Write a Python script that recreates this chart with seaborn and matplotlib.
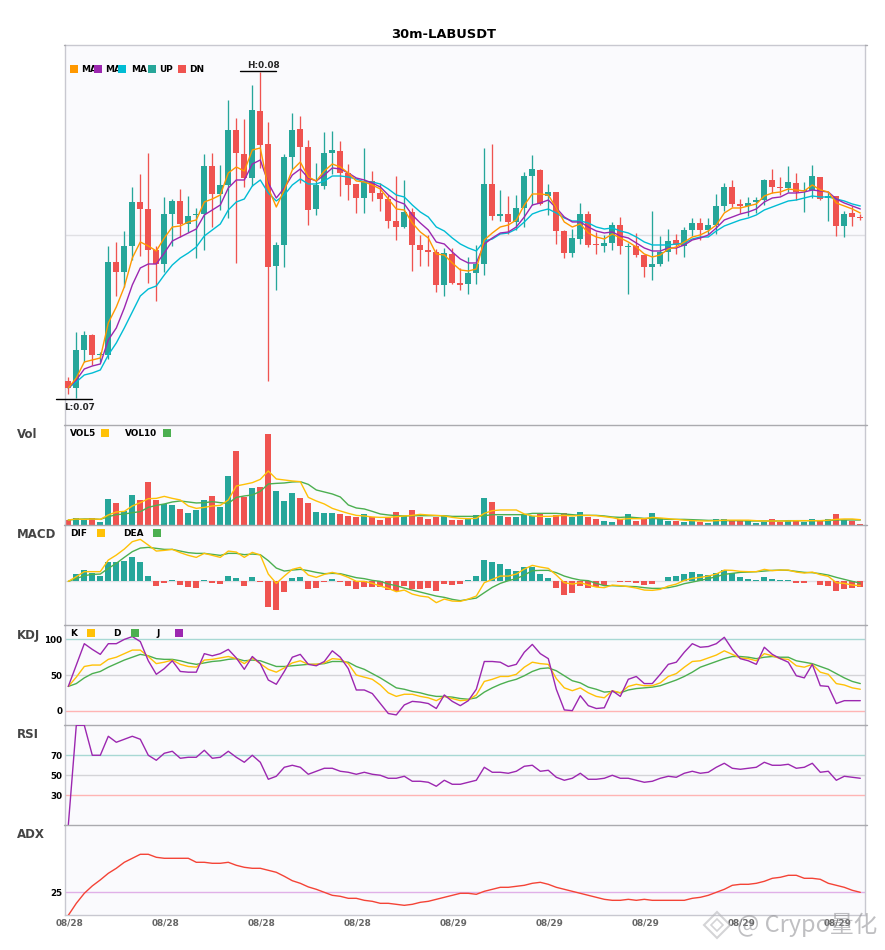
import pandas as pd
import numpy as np
import matplotlib
matplotlib.use('Agg')
import matplotlib.pyplot as plt
from matplotlib.lines import Line2D
from matplotlib.patches import Rectangle
import seaborn as sns

# candles, price read in chart units above the floor of the panel
opens = [43,36,74,89,69,69,162,152,178,222,215,174,160,210,223,200,209,210,258,230,
         239,294,270,246,313,280,158,179,267,295,277,215,238,271,273,251,240,226,243,231,
         225,203,197,212,179,174,172,139,170,141,140,151,160,240,208,210,202,216,248,254,
         228,232,193,171,185,210,180,178,181,199,177,178,169,157,160,172,184,178,194,201,
         194,199,218,237,220,218,222,224,244,237,236,241,233,234,247,226,228,198,211,207]
closes = [36,74,89,69,70,162,152,178,222,215,174,160,210,223,200,208,210,258,230,239,
          294,271,246,314,279,157,179,267,294,277,214,239,271,274,251,239,226,243,231,225,
          203,197,212,179,174,172,139,171,141,139,151,160,240,208,210,202,216,248,255,220,
          232,193,171,186,210,179,179,181,199,178,178,169,157,160,172,183,179,194,201,194,
          199,218,237,220,218,221,224,244,237,236,242,232,234,248,225,228,198,210,207,206]
highs = [47,92,93,90,72,178,182,193,237,250,271,178,227,225,235,228,216,270,271,259,
         324,306,305,339,352,302,182,270,311,308,284,261,292,293,283,260,240,276,253,241,
         229,248,244,216,189,189,175,176,176,156,167,179,276,280,234,228,229,252,269,255,
         240,232,194,195,221,213,192,189,202,207,181,191,169,213,188,195,190,197,206,206,
         206,230,241,244,225,227,227,245,255,247,258,251,242,259,247,232,228,213,218,210]
lows = [30,26,62,59,62,65,128,137,164,168,141,123,152,178,187,192,166,174,197,214,
        206,161,237,238,256,43,134,157,255,241,199,209,235,250,228,224,211,211,223,213,
        196,184,196,153,158,158,132,128,140,134,130,140,149,204,203,190,194,197,219,219,
        209,180,166,167,180,177,170,172,174,170,130,167,147,144,158,163,170,167,188,184,
        190,190,213,217,211,208,211,219,231,229,232,224,212,226,224,203,188,187,198,204]
ma5 = [36,46,62,64,66,101,117,137,166,182,178,173,186,197,198,202,204,222,225,229,
       251,257,253,274,276,236,217,234,254,262,247,243,253,260,257,251,243,242,239,235,
       225,215,214,201,192,186,170,169,161,154,153,155,184,191,197,199,204,219,230,230,
       229,216,202,197,200,191,187,185,190,186,182,177,170,167,169,175,177,182,187,189,
       193,199,211,216,216,218,220,228,231,232,235,234,233,239,234,232,221,218,215,211]
ma10 = [36,44,55,58,60,84,96,116,139,156,160,160,171,183,187,191,195,209,214,219,
        236,244,244,260,264,241,226,236,249,255,246,243,249,256,255,251,246,244,241,237,
        229,223,220,209,201,194,182,180,172,165,161,161,180,186,191,192,197,207,219,221,
        224,216,207,202,202,197,193,191,192,188,186,181,176,173,173,176,176,179,184,186,
        189,196,204,207,210,212,215,222,226,227,231,231,232,234,233,232,225,221,218,215]
ma20 = [36,42,49,51,54,69,81,96,112,128,135,138,149,159,166,171,177,188,194,200,
        214,222,225,238,244,231,223,229,239,245,240,240,243,248,248,247,245,242,242,240,
        235,229,227,219,212,207,197,193,186,180,176,173,183,185,190,191,195,202,210,213,
        215,211,206,203,203,201,197,195,196,193,191,187,182,179,179,179,180,181,185,187,
        187,193,198,201,204,206,209,214,217,220,223,224,226,228,227,227,225,223,220,218]

# volume
vol = [4.7,6.7,5.3,6.7,2.7,25.7,21.7,14,29.7,24.7,42.7,24.7,20.7,19.7,15.7,11.7,14.7,24.7,28.7,17.7,
       48.7,73.7,28,36.7,37.7,90.7,33.7,23.7,31.7,26.7,21.7,12.7,11.7,11.7,10.7,8.7,7.7,10.7,7.7,4.7,
       7,12.7,8.7,14.7,7.7,5.7,7.7,8.7,4.7,4.7,6,9.7,26.7,22.7,8.7,7.7,7.7,10.7,8.7,10.7,
       6.7,9.7,11.7,8,12.7,7.7,5.7,3.7,2.7,5.7,10.7,3.7,5.7,11.7,6.7,3.7,3.7,2.7,3.7,2.7,
       2,5.7,5.7,4.7,3.7,3.7,2,2.7,5.7,2.7,3.7,4.7,2.7,5.7,3.7,5.7,10.7,4.7,3.7,0.7]
vol5 = [4.7,5.7,5.3,5.7,5.3,9.7,12.7,13.3,18.7,22,26,26.3,28.3,26.3,24.7,18.7,16.3,17.3,18.7,19.3,
        24.7,38.7,40.3,42,45.3,53.7,45.7,44.7,43.7,43,27.3,23.7,20.7,16.3,13.7,11.3,9.3,8.7,7.7,7.3,
        7.3,8,8.7,9.3,10.3,9.7,9.3,8.7,7.3,6.3,6,6.3,11.3,14,14.7,14.7,14.7,10.7,8.7,8.3,
        8.3,8.7,9.3,8.7,9.3,9.3,9,8,7,5.3,6,6,6,7.3,6.7,6,5.3,4.5,4,3.7,
        3.7,4,4.5,4.5,4.5,4.5,4,3.7,3.7,3.7,3.7,4,4,4,4,4.5,5.3,5.7,5.7,5]
vol10 = [4.7,5.3,5.7,5.7,5.3,8,10,10.7,12,13,17.3,19.3,20.7,22.7,23.7,22.7,21.7,22,23,22,
         21.3,27.3,28.7,29.7,33.3,40.7,41.3,41.7,42.7,43,40.3,34.7,32.7,30.7,27.7,19.7,16.7,15.7,13.3,10.7,
         9.7,9,8.7,9,9,9,9,9,8.3,8.3,8.3,8.3,9,10,10,10,10,10,11.3,11.3,
         11.3,11.3,10.7,10,9.3,9.3,9.3,8.7,7.7,7.3,7.7,7,6.3,6.3,5.7,5.3,5.3,5.3,5,4.7,
         4.3,4.3,4,4,4,3.7,3.7,3.7,3.7,3.7,4,4,4,4,4,4,4.7,4.7,4.7,4.7]

# macd
macd = [0,7.3,11.3,8.3,5.3,19.3,19.3,20.3,24.3,19.3,5.3,-4.7,-1.7,1.3,-3.7,-5.7,-6.7,1.3,-1.7,-2.7,
        5.3,3.3,-4.7,4.3,-0.7,-25.7,-28.7,-10.7,3.3,4.3,-7.7,-6.7,-0.7,2.3,-0.7,-4.7,-7.7,-5.7,-5.7,-5.7,
        -8.7,-9.7,-4.7,-7.7,-7.7,-6.7,-9.7,-2.7,-3.7,-2.7,1.3,5.3,21.3,19.3,17.3,12.3,10.3,14.3,14.3,7.3,
        3.3,-6.7,-13.7,-11.7,-4.7,-6.7,-5.7,-3.7,0,-0.7,-0.7,-1.7,-3.7,-2.7,0,4.3,5.3,7.3,9.3,7.3,
        6.3,8.3,11.3,8.3,4.3,2.3,1.3,4.3,2.3,1.3,1.3,-1.7,-1.7,0,-3.7,-4.7,-9.7,-7.7,-6.7,-5.7]
dif = [0,4.7,9.7,9.7,9.7,21.3,26.3,32.3,39.7,42,36.3,30.3,31,32,28.7,26,24,28,26,24,
       30.3,29.3,24,29,26.3,7.3,-2,5.3,12,14,6.3,4,7,9,7,4,0,0,-2,-4.7,
       -7,-10.3,-8.7,-12.7,-14.7,-15.7,-21.3,-17.7,-19.7,-20,-17.7,-14.7,-1.3,2,5.3,5.3,7.3,12.3,16,14.3,
       13,6.3,-1.3,-2.7,-1.3,-3.7,-5.7,-6.3,-3.7,-4.3,-5.3,-6.7,-8.7,-9,-8,-4.7,-2.7,1,3,4,
       5.3,7.3,11.3,11,10,9.7,9.7,12,10.7,11.3,11.3,9.3,8.3,9.3,6.7,5,-1.3,-2,-3.7,-4.3]
dea = [0,2.7,5.7,7,7.3,13,18,24,29.7,33.3,34,33,32,32,30.3,28.7,28,28,27,26,
       28,28,26.7,27.3,26.7,20.7,13.3,10.3,11.3,12,10.7,9,7.7,8,7.7,5.7,3.7,2.7,1,0,
       -2.7,-4.3,-6.7,-8.7,-10.7,-12.7,-14.7,-16,-18,-19.3,-18,-16.7,-11.3,-6,-2,0.7,2.7,6.3,10.7,11,
       11,8.7,5.3,3,1.3,0.7,-2,-4.3,-4.3,-4.7,-5,-5.3,-6.3,-7,-7,-6.3,-4.7,-2.3,-0.7,1,
       2.7,4.7,7,8,9,9.3,9.7,10.3,11,11.3,11,10,9,8.7,7.7,6.3,4,2,0,-1.7]

# kdj
k_line = [34,47,62,64,64,72,75,80,85,85,76,66,68,71,65,62,61,71,72,74,
          76,73,66,74,66,58,54,60,67,70,65,65,67,73,72,66,50,47,44,36,
          25,20,23,23,20,18,14,20,17,14,15,22,41,44,48,48,51,61,68,66,
          65,45,32,28,32,25,20,18,28,25,34,37,35,35,39,48,52,61,69,70,
          74,78,84,79,74,73,70,80,77,73,72,63,61,65,54,51,38,36,32,30]
d_line = [34,38,46,52,55,61,66,71,75,79,77,73,72,72,70,67,65,67,69,70,
          72,73,70,71,70,66,62,62,63,64,65,65,66,69,69,68,62,58,52,46,
          39,32,30,27,25,22,20,20,19,17,16,18,26,32,37,41,44,49,55,59,
          60,56,49,42,39,33,30,26,27,25,29,31,32,33,35,39,43,48,54,61,
          65,69,73,76,76,75,73,75,76,75,75,70,68,66,62,58,52,46,41,38]
j_line = [34,64,94,86,79,94,94,100,104,97,70,51,59,70,55,54,54,80,77,80,
          86,74,58,76,66,43,37,55,75,79,65,63,69,84,75,59,29,29,24,10,
          -4,-6,8,13,12,10,3,22,13,7,14,30,69,69,68,62,65,82,93,80,
          73,30,1,0,21,7,3,4,28,20,44,48,38,38,51,65,68,82,94,89,
          90,94,103,86,73,70,65,89,79,73,68,49,46,65,35,34,10,14,14,14]

# rsi
rsi = [0,100,100,70,70,89,83,86,89,86,70,65,72,74,67,68,68,75,67,68,
       74,68,63,70,63,46,49,58,60,58,51,54,57,57,54,53,51,53,51,50,
       47,47,49,44,44,43,39,45,41,41,43,45,58,53,53,52,54,59,60,54,
       55,48,45,47,52,46,46,47,50,47,47,45,43,44,47,49,48,52,54,52,
       53,58,62,57,56,57,58,63,60,60,61,57,58,62,53,54,45,49,48,47]

# adx
adx = [13.5,19.5,24.5,28.2,31.2,34.5,37,40,42,44,44,42.5,42,42,42,42,40,40,39.5,39.5,
       40,38.5,37.5,37,37,36,35,33,30.8,29.5,27.7,26.5,25,23.5,23,22,22,21,20.5,19.5,
       19.5,19,18.5,19,20,20.5,21.5,22.5,23.5,24.5,24.5,24,25.5,26.5,27.5,27.5,28,28.5,29.5,30,
       29,27.5,26.5,25.5,24.5,23.5,22.5,21.5,21,21,21.5,21,21.5,21,21,21,21,21,22,22.5,
       23.5,25,26.5,28.5,29,29,29.5,30.5,32,32.5,33.5,33.5,32,32,31.5,29.5,28.5,27.5,26,25]

x_tick_pos = [0.2, 12.2, 24.2, 36.2, 48.2, 60.2, 72.2, 84.2, 96.2]
x_tick_labels = ['08/28', '08/28', '08/28', '08/28', '08/29', '08/29', '08/29', '08/29', '08/29']

UP = '#26A69A'
DN = '#EF5350'
ORANGE = '#FF9800'
PURPLE = '#9C27B0'
CYAN = '#00BCD4'
YELLOW = '#FFC107'
GREEN = '#4CAF50'
BG = '#FAFAFD'

sns.set_theme(style='white')
plt.rcParams['font.family'] = ['DejaVu Sans']

W, H = 885, 950
fig = plt.figure(figsize=(W / 100, H / 100), dpi=100)


def panel(top, bottom, ylim):
    ax = fig.add_axes([65.3 / W, 1 - bottom / H, 800 / W, (bottom - top) / H])
    ax.set_facecolor(BG)
    ax.set_xlim(-0.375, 99.625)
    ax.set_ylim(*ylim)
    ax.set_xticks([])
    ax.set_yticks([])
    for name in ['left', 'right']:
        ax.spines[name].set_color('#c8c8d0')
        ax.spines[name].set_linewidth(1)
    ax.spines['top'].set_color('#aaaaaf')
    ax.spines['top'].set_linewidth(1)
    ax.spines['bottom'].set_visible(False)
    # little nubs where the panel starts
    for x0, x1 in [(64, 65.3), (865.3, 867)]:
        fig.add_artist(Line2D([x0 / W, x1 / W], [1 - top / H] * 2, color='#aaaaaf', linewidth=1,
                              transform=fig.transFigure))
    return ax


def finish(ax, ylim):
    ax.set_xlim(-0.375, 99.625)
    ax.set_ylim(*ylim)
    ax.set_xlabel('')
    ax.set_ylabel('')


def guides(ax, levels):
    for level, color in levels:
        ax.axhline(level, color=color, linewidth=1, zorder=0.5)
    ax.set_yticks([level for level, _ in levels])
    ax.set_yticklabels([str(level) for level, _ in levels])
    ax.tick_params(axis='y', length=0, pad=2, labelsize=6.3, labelcolor='black')
    for label in ax.get_yticklabels():
        label.set_fontweight('bold')


def draw_lines(ax, series, lw=1.0):
    for values, color in series:
        sns.lineplot(x=idx, y=values, color=color, linewidth=lw, ax=ax,
                     estimator=None, sort=False, legend=False, zorder=4)


def legend_text(x, y, text):
    fig.text(x / W, 1 - y / H, text, fontsize=6.4, fontweight='bold', color='black',
             ha='left', va='center', zorder=1)


def legend_box(x, y, color):
    fig.add_artist(Rectangle((x / W, 1 - (y + 4) / H), 8 / W, 8 / H, facecolor=color,
                             edgecolor='none', transform=fig.transFigure, zorder=2))


idx = np.arange(len(opens))
df = pd.DataFrame({'i': idx, 'open': opens, 'close': closes, 'high': highs, 'low': lows,
                   'vol': vol, 'macd': macd})
df['side'] = np.where(df['close'] >= df['open'], 'up', 'dn')
df['bottom'] = df[['open', 'close']].min(axis=1)
df['body'] = (df['close'] - df['open']).abs().clip(lower=0.7)
df['macd_side'] = np.where(df['macd'] >= 0, 'up', 'dn')
colors = {'up': UP, 'dn': DN}

# main panel
ylim_main = (-0.7, 378.7)
ax_main = panel(45.3, 424.67, ylim_main)
ax_main.spines['top'].set_color('#c8c8d0')
ax_main.axhline(189, color='#e0e0e4', linewidth=1, zorder=0.5)
for side, group in df.groupby('side'):
    ax_main.vlines(group['i'], group['low'], group['high'], color=colors[side], linewidth=0.95, zorder=2)
    sns.barplot(data=group, x='i', y='body', bottom=group['bottom'].values, native_scale=True,
                color=colors[side], saturation=1, width=0.72, errorbar=None, ax=ax_main,
                linewidth=0, zorder=3)
draw_lines(ax_main, [(ma20, CYAN), (ma10, PURPLE), (ma5, ORANGE)])
finish(ax_main, ylim_main)

# high / low marks
hi = int(np.argmax(highs))
lo = int(np.argmin(lows))
ax_main.plot([hi - 2.6, hi + 1.9], [highs[hi] + 0.5] * 2, color='black', linewidth=1, zorder=5)
ax_main.plot([lo - 2.6, lo + 1.9], [lows[lo] - 1] * 2, color='black', linewidth=1,
             zorder=5, clip_on=False)
ax_main.text(hi + 0.4, highs[hi] + 6, 'H:0.08', fontsize=6.4, fontweight='bold', ha='center', va='center')
ax_main.text(lo + 0.4, lows[lo] - 9.5, 'L:0.07', fontsize=6.4, fontweight='bold', ha='center', va='center')

# volume
ylim_vol = (0, 100)
ax_vol = panel(424.67, 524.67, ylim_vol)
sns.barplot(data=df, x='i', y='vol', hue='side', palette=colors, dodge=False, native_scale=True,
            saturation=1, width=0.72, errorbar=None, legend=False, ax=ax_vol, linewidth=0)
draw_lines(ax_vol, [(vol10, GREEN), (vol5, YELLOW)])
finish(ax_vol, ylim_vol)

# macd
ylim_macd = (-43.3, 56.7)
ax_macd = panel(524.67, 624.67, ylim_macd)
ax_macd.axhline(0, color='#e0e0e4', linewidth=1, zorder=0.5)
sns.barplot(data=df, x='i', y='macd', hue='macd_side', palette=colors, dodge=False, native_scale=True,
            saturation=1, width=0.72, errorbar=None, legend=False, ax=ax_macd, linewidth=0)
draw_lines(ax_macd, [(dea, GREEN), (dif, YELLOW)])
finish(ax_macd, ylim_macd)

# kdj
ylim_kdj = (-19.7, 120.7)
ax_kdj = panel(624.67, 724.67, ylim_kdj)
draw_lines(ax_kdj, [(d_line, GREEN), (k_line, YELLOW), (j_line, PURPLE)])
finish(ax_kdj, ylim_kdj)
guides(ax_kdj, [(100, '#A8D8D4'), (50, '#D4D4D8'), (0, '#FFB4B4')])

# rsi
ylim_rsi = (0.6, 100.6)
ax_rsi = panel(724.67, 824.67, ylim_rsi)
draw_lines(ax_rsi, [(rsi, PURPLE)])
finish(ax_rsi, ylim_rsi)
guides(ax_rsi, [(70, '#A8D8D4'), (50, '#D4D4D8'), (30, '#FFB4B4')])

# adx
ylim_adx = (13.5, 58.8)
ax_adx = panel(824.67, 915.33, ylim_adx)
ax_adx.spines['bottom'].set_visible(True)
ax_adx.spines['bottom'].set_color('#c8c8d0')
ax_adx.spines['bottom'].set_linewidth(1)
draw_lines(ax_adx, [(adx, '#F44336')])
finish(ax_adx, ylim_adx)
guides(ax_adx, [(25, '#E0B0E8')])
ax_adx.set_xticks(x_tick_pos)
ax_adx.set_xticklabels(x_tick_labels)
ax_adx.tick_params(axis='x', length=0, pad=2.5, labelsize=6.4, labelcolor='#666666')
for label in ax_adx.get_xticklabels():
    label.set_fontweight('bold')

# title and row names
fig.text(443.5 / W, 1 - 34.5 / H, '30m-LABUSDT', fontsize=9.4, fontweight='bold', ha='center', va='center',
         color='black')
for name, y in [('Vol', 435), ('MACD', 535), ('KDJ', 635), ('RSI', 735), ('ADX', 835)]:
    fig.text(17 / W, 1 - y / H, name, fontsize=8.5, fontweight='bold', color='#444444',
             ha='left', va='center')

# hand placed legends, the labels run under the next box like in the original
for x, y, text in [(81, 69, 'MA'), (105, 69, 'MA'), (131, 69, 'MA'), (159, 69, 'UP'), (189, 69, 'DN'),
                   (70, 433.5, 'VOL5'), (125, 433.5, 'VOL10'), (70, 533.5, 'DIF'), (123, 533.5, 'DEA'),
                   (70, 633.5, 'K'), (113, 633.5, 'D'), (156, 633.5, 'J')]:
    legend_text(x, y, text)
for x, y, color in [(70, 69, ORANGE), (94, 69, PURPLE), (118, 69, CYAN), (148, 69, UP), (178, 69, DN),
                    (101, 433, YELLOW), (163, 433, GREEN), (97, 533, YELLOW), (153, 533, GREEN),
                    (87, 633, YELLOW), (131, 633, GREEN), (175, 633, PURPLE)]:
    legend_box(x, y, color)

# watermark
fig.text(737 / W, 1 - 925 / H, '@ Crypo量化', fontsize=17, color='#8c8c90', alpha=0.55,
         family=['Noto Sans CJK SC', 'DejaVu Sans'], ha='left', va='center', zorder=8)
fig.add_artist(Line2D([717 / W], [1 - 925 / H], marker='D', markersize=13, markerfacecolor='none',
                      markeredgecolor='#b8b8bc', markeredgewidth=1.5, alpha=0.6,
                      transform=fig.transFigure, zorder=8))
fig.add_artist(Line2D([717 / W], [1 - 925 / H], marker='D', markersize=6, markerfacecolor='none',
                      markeredgecolor='#b8b8bc', markeredgewidth=1.2, alpha=0.6,
                      transform=fig.transFigure, zorder=8))

fig.savefig('out.png', dpi=100, facecolor='white')
